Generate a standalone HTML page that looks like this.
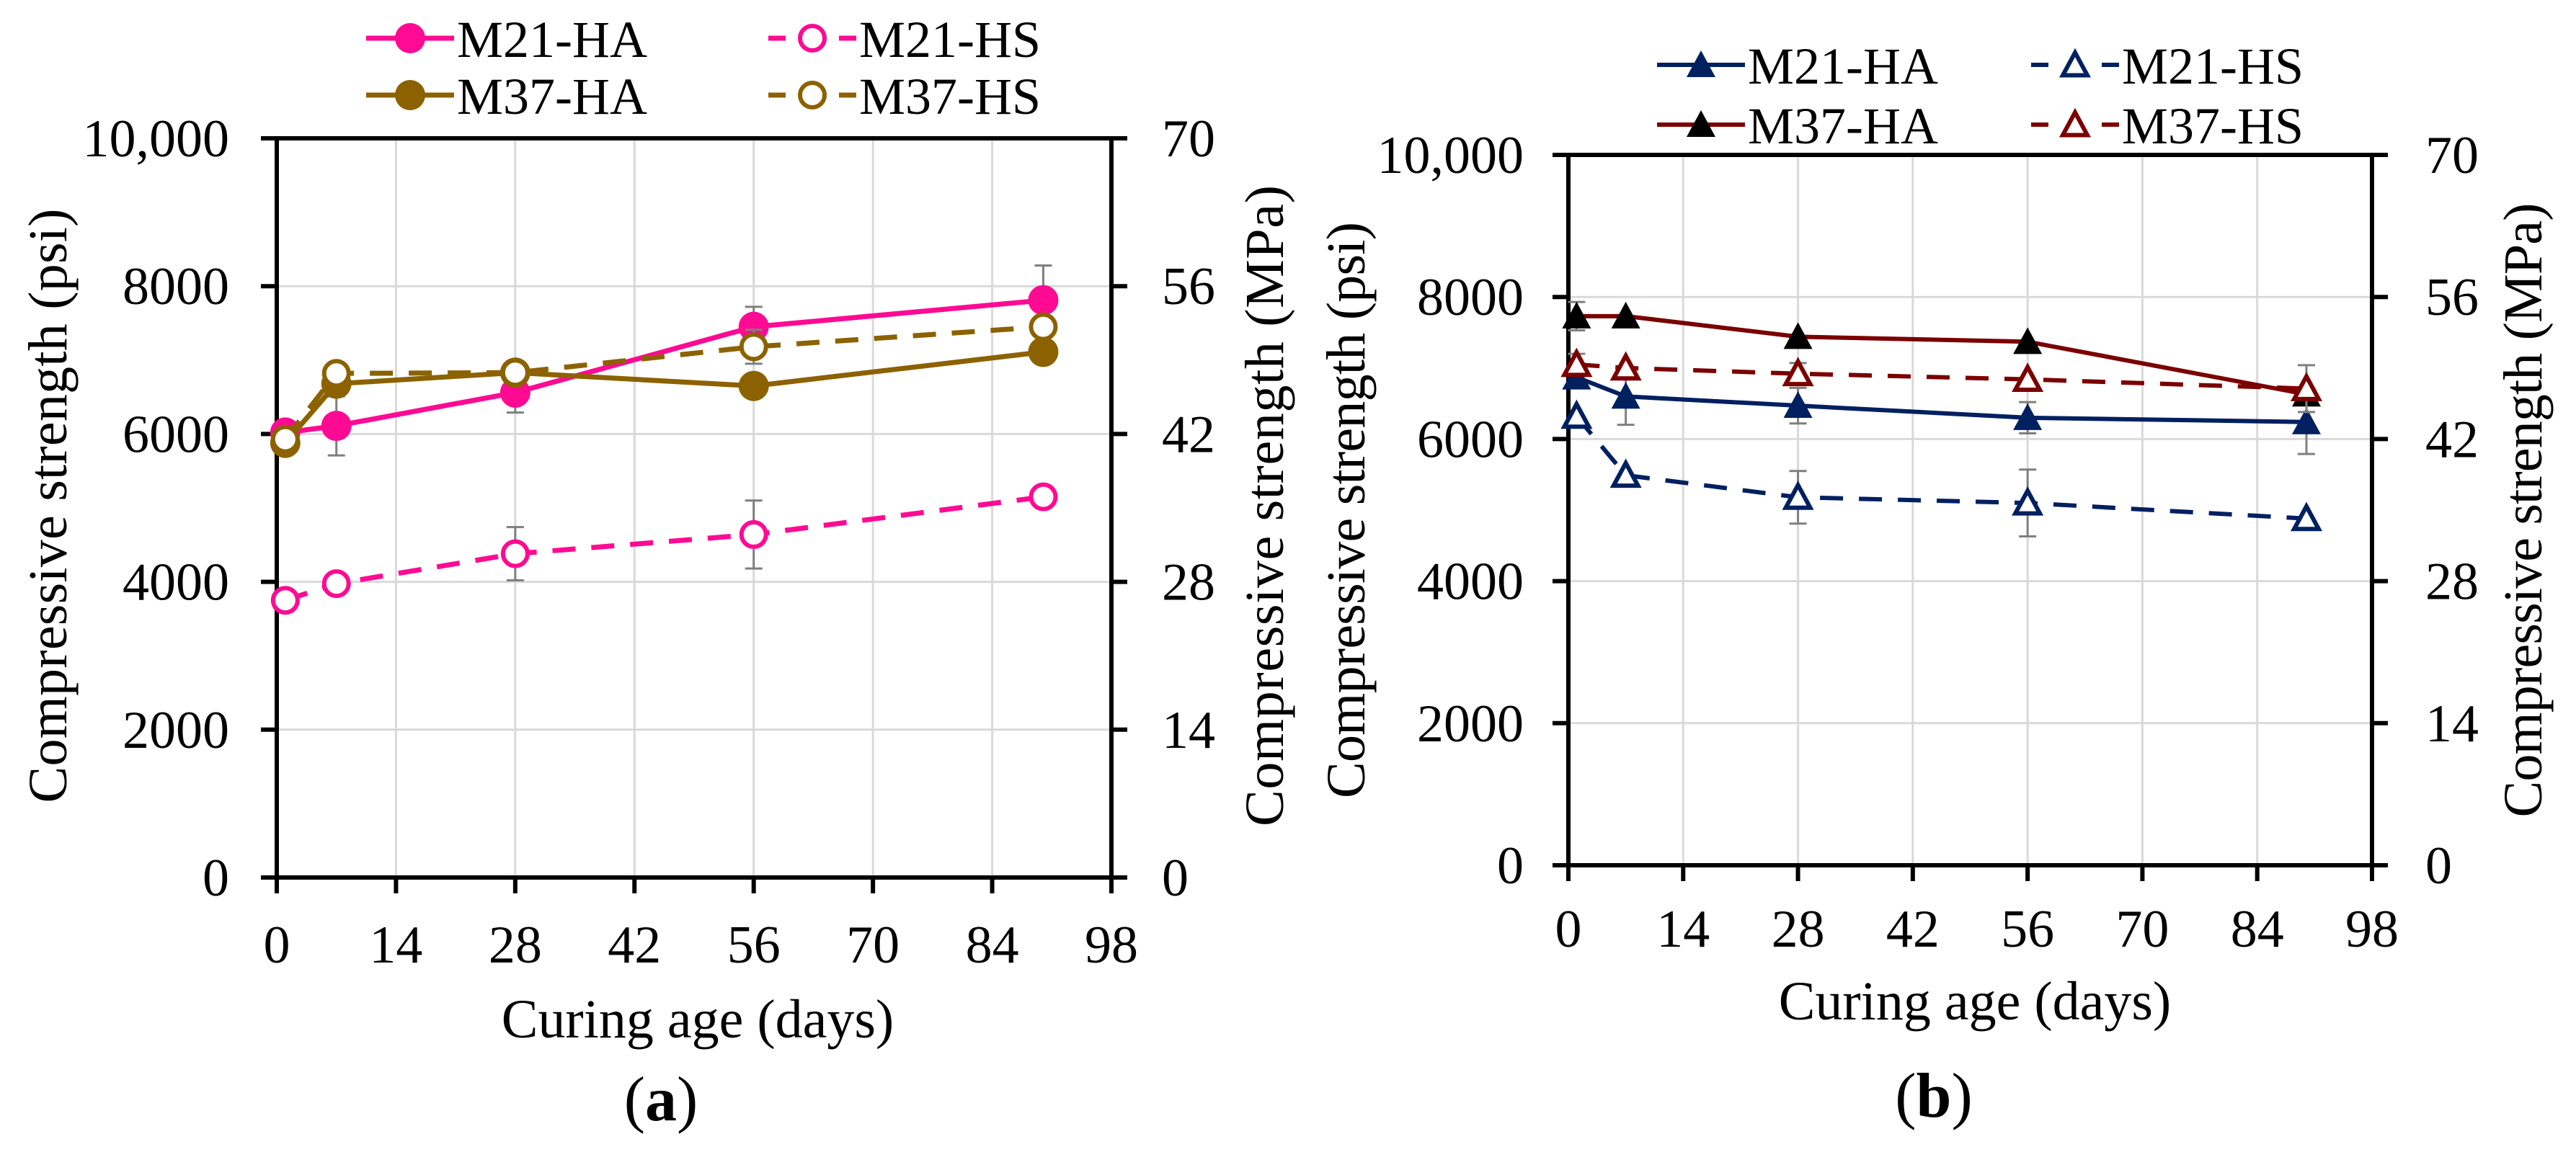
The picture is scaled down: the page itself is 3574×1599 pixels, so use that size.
<!DOCTYPE html>
<html><head><meta charset="utf-8"><style>
html,body{margin:0;padding:0;background:#fff;}
svg{display:block;font-family:"Liberation Serif",serif;}
</style></head><body>
<svg id="fig" width="3574" height="1599" viewBox="0 0 3574 1599" xmlns="http://www.w3.org/2000/svg" font-family="Liberation Serif, serif"></svg>
<script>
const days = [1, 7, 28, 56, 90];
const xTicks = [0, 14, 28, 42, 56, 70, 84, 98];
const yTicks = [0, 2000, 4000, 6000, 8000, 10000];
const yTickLabels = ["0", "2000", "4000", "6000", "8000", "10,000"];
const mpaTickLabels = ["0", "14", "28", "42", "56", "70"];

// Panel (a)
const aM21HA = [6020, 6110, 6560, 7450, 7810];
const aM21HAerr = [0, 400, 270, 270, 470];
const aM21HS = [3750, 3975, 4380, 4640, 5150];
const aM21HSerr = [40, 0, 360, 460, 0];
const aM37HA = [5880, 6680, 6830, 6650, 7110];
const aM37HAerr = [0, 0, 0, 0, 120];
const aM37HS = [5930, 6820, 6830, 7180, 7450];
const aM37HSerr = [0, 0, 0, 230, 0];

// Panel (b)
const bM21HA = [6870, 6600, 6470, 6300, 6240];
const bM21HAerr = [0, 400, 250, 220, 450];
const bM21HS = [6320, 5490, 5180, 5100, 4880];
const bM21HSerr = [0, 0, 370, 470, 0];
const bM37HA = [7730, 7730, 7440, 7370, 6630];
const bM37HAerr = [200, 0, 0, 0, 0];
const bM37HS = [7050, 7000, 6920, 6840, 6710];
const bM37HSerr = [150, 0, 150, 0, 330];

const NS = "http://www.w3.org/2000/svg";
const svg = document.getElementById("fig");
function mk(tag, attrs, parent) {
  const e = document.createElementNS(NS, tag);
  for (const k in attrs) e.setAttribute(k, attrs[k]);
  (parent || svg).appendChild(e);
  return e;
}

function panel(p) {
  const g = mk("g", {});
  
  
  const X = d => p.x0 + (d / 98) * (p.x1 - p.x0);
  const Y = v => p.y1 - (v / 10000) * (p.y1 - p.y0);
  xTicks.forEach((t, i) => {
    if (i === 0 || i === xTicks.length - 1) return;
    const l = mk("line", {x1: X(t), x2: X(t), y1: p.y0, y2: p.y1, stroke: "#d9d9d9", "stroke-width": 3}, g);
    
    
  });
  yTicks.forEach((t, i) => {
    if (i === 0 || i === yTicks.length - 1) return;
    const l = mk("line", {x1: p.x0, x2: p.x1, y1: Y(t), y2: Y(t), stroke: "#d9d9d9", "stroke-width": 3}, g);
    
    
  });
  const fr = mk("rect", {x: p.x0, y: p.y0, width: p.x1 - p.x0, height: p.y1 - p.y0, fill: "none", stroke: "#000", "stroke-width": 6}, g);
  
  
  yTicks.forEach((t, i) => {
    const y = Y(t);
    mk("line", {x1: p.x0 - 22, x2: p.x0, y1: y, y2: y, stroke: "#000", "stroke-width": 6}, g);
    mk("line", {x1: p.x1, x2: p.x1 + 22, y1: y, y2: y, stroke: "#000", "stroke-width": 6}, g);
    const tl = mk("text", {x: p.ylabX, y: y + 25, "font-size": 74, "text-anchor": "end"}, g);
    tl.textContent = yTickLabels[i];
    
    
    const tr = mk("text", {x: p.rlabX, y: y + 25, "font-size": 74, "text-anchor": "start"}, g);
    tr.textContent = mpaTickLabels[i];
    
    
  });
  xTicks.forEach(t => {
    const x = X(t);
    mk("line", {x1: x, x2: x, y1: p.y1, y2: p.y1 + 22, stroke: "#000", "stroke-width": 6}, g);
    const tl = mk("text", {x: x, y: p.xlabY, "font-size": 74, "text-anchor": "middle"}, g);
    tl.textContent = String(t);
    
    
  });
  const xt = mk("text", {x: p.xtX, y: p.xtY, "font-size": 76, "text-anchor": "middle"}, g);
  xt.textContent = "Curing age (days)";
  
  
  const yt = mk("text", {x: 0, y: 0, "font-size": 76, "text-anchor": "middle", textLength: p.ytLen, lengthAdjust: "spacing", transform: `translate(${p.ytX},${p.ytCY}) rotate(-90)`}, g);
  yt.textContent = "Compressive strength (psi)";
  
  
  const rt = mk("text", {x: 0, y: 0, "font-size": 76, "text-anchor": "middle", textLength: p.rtLen, lengthAdjust: "spacing", transform: `translate(${p.rtX},${p.ytCY}) rotate(-90)`}, g);
  rt.textContent = "Compressive strength (MPa)";
  
  
  const cap = mk("text", {x: p.capX, y: p.capY, "font-size": 88, "text-anchor": "middle"}, g);
  cap.innerHTML = '(<tspan font-weight="bold">' + p.cap + '</tspan>)';
  
  

  function marker(parent, shape, x, y, s) {
    let m;
    if (shape === "circle") {
      m = s.filled ? mk("circle", {cx: x, cy: y, r: 21, fill: s.mfill}, parent)
                   : mk("circle", {cx: x, cy: y, r: 17, fill: "#fff", stroke: s.color, "stroke-width": 6}, parent);
    } else {
      const h = s.filled ? 20 : 17;
      const pts = `${x},${y - h} ${x + h},${y + h * 0.85} ${x - h},${y + h * 0.85}`;
      m = s.filled ? mk("polygon", {points: pts, fill: s.mfill}, parent)
                   : mk("polygon", {points: pts, fill: "#fff", stroke: s.color, "stroke-width": 6, "stroke-linejoin": "miter"}, parent);
    }
    return m;
  }

  p.series.forEach(s => {
    const sg = mk("g", {}, g);
    
    
    s.vals.forEach((v, i) => {
      const e = s.err[i];
      if (!e) return;
      const x = X(days[i]);
      const eb = mk("path", {d: `M${x},${Y(v - e)}V${Y(v + e)}M${x - 12},${Y(v - e)}h24M${x - 12},${Y(v + e)}h24`, stroke: "#7f7f7f", "stroke-width": 3, fill: "none"}, sg);
      
      
    });
    const d = s.vals.map((v, i) => (i ? "L" : "M") + X(days[i]) + "," + Y(v)).join("");
    const ln = mk("path", {d: d, fill: "none", stroke: s.color, "stroke-width": p.lw, "stroke-dasharray": s.dash ? "32,22" : "none"}, sg);
    
    
    s.vals.forEach((v, i) => {
      const m = marker(sg, p.shape, X(days[i]), Y(v), s);
      
      
    });
  });

  const lg = mk("g", {}, g);
  
  
  p.series.forEach((s, i) => {
    const col = i % 2, row = Math.floor(i / 2);
    const lx = p.legX[col], ly = p.legY[row];
    const eg = mk("g", {}, lg);
    
    
    if (s.dash) {
      mk("path", {d: `M${lx},${ly}h24M${lx + 98},${ly}h24`, stroke: s.color, "stroke-width": p.lw, fill: "none"}, eg);
    } else {
      mk("line", {x1: lx, x2: lx + 122, y1: ly, y2: ly, stroke: s.color, "stroke-width": p.lw}, eg);
    }
    marker(eg, p.shape, lx + 61, ly, s);
    const t = mk("text", {x: lx + 126, y: ly + 26, "font-size": 72}, eg);
    t.textContent = s.label;
  });
}

panel({
  name: "panel-a", cap: "a", x0: 384, x1: 1542, y0: 192, y1: 1218, lw: 7, shape: "circle",
  ylabX: 318, rlabX: 1612, xlabY: 1336, xtX: 968, xtY: 1440, ytX: 92, rtX: 1780, ytCY: 702, ytLen: 825, rtLen: 890,
  capX: 917, capY: 1555, legX: [508, 1066], legY: [53, 132],
  series: [
    {id: "series-m21-ha", label: "M21-HA", vals: aM21HA, err: aM21HAerr, color: "#ff0a93", mfill: "#ff0a93", filled: true, dash: false},
    {id: "series-m21-hs", label: "M21-HS", vals: aM21HS, err: aM21HSerr, color: "#ff0a93", filled: false, dash: true},
    {id: "series-m37-ha", label: "M37-HA", vals: aM37HA, err: aM37HAerr, color: "#8c6200", mfill: "#8c6200", filled: true, dash: false},
    {id: "series-m37-hs", label: "M37-HS", vals: aM37HS, err: aM37HSerr, color: "#8c6200", filled: false, dash: true}
  ]
});
panel({
  name: "panel-b", cap: "b", x0: 2176, x1: 3291, y0: 215, y1: 1201, lw: 6, shape: "tri",
  ylabX: 2114, rlabX: 3365, xlabY: 1314, xtX: 2740, xtY: 1415, ytX: 1893, rtX: 3526, ytCY: 708, ytLen: 800, rtLen: 853,
  capX: 2683, capY: 1550, legX: [2299, 2818], legY: [90, 173],
  series: [
    {id: "series-m21-ha", label: "M21-HA", vals: bM21HA, err: bM21HAerr, color: "#002060", mfill: "#002060", filled: true, dash: false},
    {id: "series-m21-hs", label: "M21-HS", vals: bM21HS, err: bM21HSerr, color: "#002060", filled: false, dash: true},
    {id: "series-m37-ha", label: "M37-HA", vals: bM37HA, err: bM37HAerr, color: "#7b0000", mfill: "#000000", filled: true, dash: false},
    {id: "series-m37-hs", label: "M37-HS", vals: bM37HS, err: bM37HSerr, color: "#7b0000", filled: false, dash: true}
  ]
});
</script>
</body></html>
